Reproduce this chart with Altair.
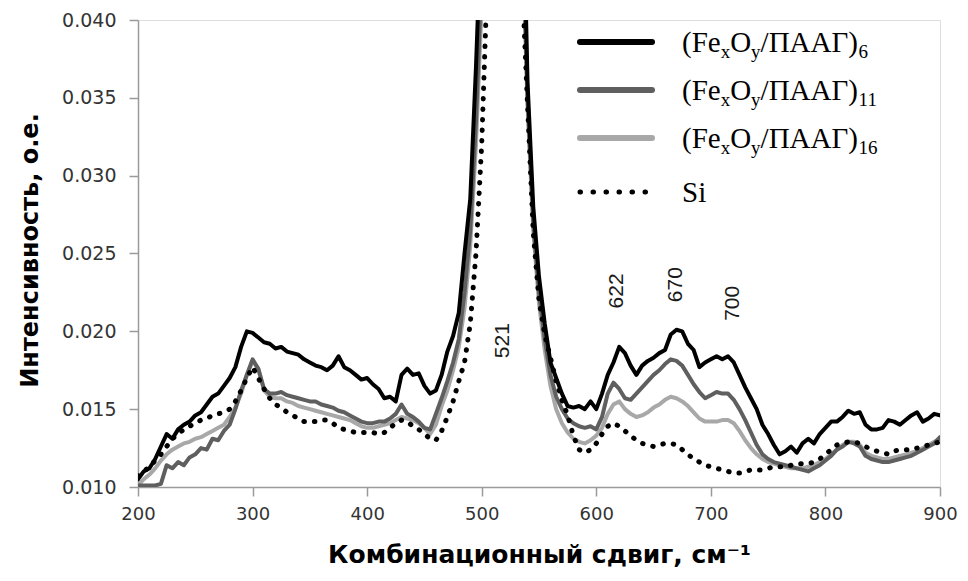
import altair as alt
import pandas as pd

# Raman shift grid (cm-1)
shift = list(range(200, 905, 5))

# (FexOy/ПААГ)6  – black
s6 = [0.0105, 0.0110, 0.0112, 0.0118, 0.0126, 0.0134, 0.0131, 0.0137, 0.0140, 0.0142,
      0.0146, 0.0148, 0.0153, 0.0158, 0.0160, 0.0165, 0.0170, 0.0177, 0.0190, 0.0200,
      0.0199, 0.0196, 0.0193, 0.0192, 0.0189, 0.0190, 0.0187, 0.0186, 0.0185, 0.0182,
      0.0180, 0.0178, 0.0177, 0.0175, 0.0178, 0.0184, 0.0177, 0.0175, 0.0172, 0.0169,
      0.0170, 0.0166, 0.0163, 0.0157, 0.0158, 0.0155, 0.0172, 0.0176, 0.0172, 0.0173,
      0.0165, 0.0160, 0.0162, 0.0172, 0.0187, 0.0197, 0.0212, 0.0250, 0.0285, 0.0370,
      0.0470, 0.0700, 0.1200, 0.2000, 0.2500, 0.2000, 0.1000, 0.0520, 0.0360, 0.0280,
      0.0235, 0.0205, 0.0180, 0.0170, 0.0160, 0.0152, 0.0151, 0.0152, 0.0150, 0.0155,
      0.0150, 0.0160, 0.0172, 0.0180, 0.0190, 0.0186, 0.0178, 0.0172, 0.0178, 0.0181,
      0.0183, 0.0186, 0.0188, 0.0198, 0.0201, 0.0200, 0.0192, 0.0188, 0.0177, 0.0180,
      0.0182, 0.0184, 0.0182, 0.0184, 0.0180, 0.0172, 0.0164, 0.0157, 0.0150, 0.0140,
      0.0134, 0.0127, 0.0121, 0.0123, 0.0126, 0.0122, 0.0128, 0.0131, 0.0128, 0.0134,
      0.0138, 0.0142, 0.0142, 0.0145, 0.0149, 0.0147, 0.0148, 0.0140, 0.0137, 0.0137,
      0.0138, 0.0143, 0.0142, 0.0140, 0.0143, 0.0146, 0.0148, 0.0142, 0.0144, 0.0147,
      0.0146]

# (FexOy/ПААГ)11 – dark grey
s11 = [0.0101, 0.0101, 0.0101, 0.0101, 0.0102, 0.0114, 0.0112, 0.0116, 0.0114, 0.0119,
       0.0121, 0.0125, 0.0124, 0.0131, 0.0130, 0.0136, 0.0140, 0.0150, 0.0162, 0.0172,
       0.0182, 0.0176, 0.0163, 0.0160, 0.0160, 0.0161, 0.0159, 0.0158, 0.0157, 0.0156,
       0.0155, 0.0155, 0.0153, 0.0152, 0.0151, 0.0149, 0.0148, 0.0146, 0.0144, 0.0142,
       0.0141, 0.0141, 0.0142, 0.0142, 0.0144, 0.0147, 0.0153, 0.0147, 0.0145, 0.0142,
       0.0138, 0.0137, 0.0147, 0.0157, 0.0168, 0.0180, 0.0195, 0.0225, 0.0265, 0.0335,
       0.0430, 0.0650, 0.1100, 0.1800, 0.2200, 0.1800, 0.0900, 0.0480, 0.0350, 0.0270,
       0.0225, 0.0195, 0.0172, 0.0158, 0.0150, 0.0144, 0.0141, 0.0139, 0.0138, 0.0139,
       0.0137, 0.0145, 0.0160, 0.0167, 0.0163, 0.0157, 0.0156, 0.0160, 0.0164, 0.0168,
       0.0172, 0.0175, 0.0179, 0.0182, 0.0181, 0.0178, 0.0172, 0.0166, 0.0161, 0.0157,
       0.0159, 0.0161, 0.0160, 0.0160, 0.0156, 0.0150, 0.0143, 0.0135, 0.0127, 0.0121,
       0.0118, 0.0116, 0.0115, 0.0114, 0.0113, 0.0112, 0.0111, 0.0110, 0.0112, 0.0114,
       0.0117, 0.0120, 0.0124, 0.0126, 0.0129, 0.0128, 0.0126, 0.0120, 0.0118, 0.0117,
       0.0116, 0.0116, 0.0117, 0.0118, 0.0119, 0.0120, 0.0122, 0.0124, 0.0126, 0.0128,
       0.0132]

# (FexOy/ПААГ)16 – light grey
s16 = [0.0101, 0.0105, 0.0108, 0.0112, 0.0117, 0.0121, 0.0124, 0.0126, 0.0128, 0.0129,
       0.0131, 0.0132, 0.0134, 0.0136, 0.0138, 0.0140, 0.0145, 0.0151, 0.0160, 0.0172,
       0.0181, 0.0176, 0.0162, 0.0158, 0.0157, 0.0157, 0.0155, 0.0154, 0.0152, 0.0151,
       0.0150, 0.0149, 0.0148, 0.0147, 0.0146, 0.0145, 0.0144, 0.0143, 0.0141, 0.0139,
       0.0138, 0.0138, 0.0139, 0.0140, 0.0141, 0.0143, 0.0145, 0.0144, 0.0143, 0.0141,
       0.0138, 0.0134, 0.0140, 0.0152, 0.0162, 0.0175, 0.0190, 0.0215, 0.0255, 0.0320,
       0.0410, 0.0600, 0.1000, 0.1600, 0.2000, 0.1600, 0.0850, 0.0460, 0.0345, 0.0265,
       0.0218, 0.0188, 0.0165, 0.0150, 0.0141, 0.0135, 0.0131, 0.0129, 0.0128, 0.0130,
       0.0133, 0.0138, 0.0147, 0.0153, 0.0155, 0.0150, 0.0147, 0.0145, 0.0146, 0.0148,
       0.0151, 0.0153, 0.0156, 0.0158, 0.0157, 0.0155, 0.0152, 0.0148, 0.0144, 0.0142,
       0.0142, 0.0142, 0.0143, 0.0143, 0.0141, 0.0136, 0.0130, 0.0125, 0.0121, 0.0118,
       0.0116, 0.0115, 0.0114, 0.0113, 0.0112, 0.0112, 0.0112, 0.0113, 0.0114, 0.0116,
       0.0118, 0.0121, 0.0124, 0.0127, 0.0129, 0.0129, 0.0127, 0.0122, 0.0120, 0.0119,
       0.0118, 0.0118, 0.0119, 0.0120, 0.0121, 0.0122, 0.0123, 0.0125, 0.0127, 0.0129,
       0.0131]

# Si substrate – dotted
si = [0.0107, 0.0110, 0.0113, 0.0117, 0.0121, 0.0126, 0.0131, 0.0134, 0.0137, 0.0139,
      0.0141, 0.0143, 0.0144, 0.0146, 0.0147, 0.0148, 0.0150, 0.0155, 0.0162, 0.0170,
      0.0177, 0.0170, 0.0163, 0.0157, 0.0153, 0.0151, 0.0148, 0.0146, 0.0144, 0.0142,
      0.0142, 0.0142, 0.0143, 0.0143, 0.0141, 0.0138, 0.0137, 0.0136, 0.0135, 0.0135,
      0.0135, 0.0135, 0.0134, 0.0135, 0.0138, 0.0141, 0.0143, 0.0142, 0.0139, 0.0137,
      0.0134, 0.0131, 0.0130, 0.0136, 0.0145, 0.0155, 0.0168, 0.0180, 0.0205, 0.0250,
      0.0320, 0.0430, 0.0900, 0.2000, 0.3000, 0.2000, 0.0900, 0.0430, 0.0345, 0.0263,
      0.0220, 0.0198, 0.0183, 0.0168, 0.0156, 0.0146, 0.0133, 0.0124, 0.0122, 0.0124,
      0.0128, 0.0134, 0.0139, 0.0141, 0.0139, 0.0136, 0.0133, 0.0130, 0.0128, 0.0127,
      0.0126, 0.0127, 0.0128, 0.0128, 0.0127, 0.0124, 0.0121, 0.0118, 0.0116, 0.0114,
      0.0113, 0.0112, 0.0111, 0.0110, 0.0109, 0.0109, 0.0110, 0.0111, 0.0111, 0.0111,
      0.0112, 0.0113, 0.0113, 0.0113, 0.0114, 0.0115, 0.0115, 0.0115, 0.0116, 0.0118,
      0.0121, 0.0124, 0.0127, 0.0128, 0.0129, 0.0129, 0.0128, 0.0126, 0.0124, 0.0123,
      0.0122, 0.0121, 0.0123, 0.0124, 0.0124, 0.0124, 0.0125, 0.0126, 0.0127, 0.0128,
      0.0129]

# peak annotations
peak_labels = ["521", "622", "670", "700"]
peak_x = [519, 618, 670, 719]
peak_y = [0.0194, 0.0226, 0.0230, 0.0218]

x_ticks = [200, 300, 400, 500, 600, 700, 800, 900]
y_ticks = [0.010, 0.015, 0.020, 0.025, 0.030, 0.035, 0.040]

legend_subs = ["6", "11", "16"]
legend_colors = ["#000000", "#5f5f5f", "#a8a8a8"]

W, H = 802, 467
AXIS_FONT = "DejaVu Sans"

xs = alt.Scale(domain=[200, 900], nice=False, zero=False)
ys = alt.Scale(domain=[0.010, 0.040], nice=False, zero=False)

x_axis = alt.Axis(
    title="Комбинационный сдвиг, см⁻¹", values=x_ticks, format="d", grid=False,
    labelFont=AXIS_FONT, labelFontSize=18, labelColor="#333333", labelPadding=9,
    tickSize=9, tickColor="#9a9a9a", domainColor="#9a9a9a", domainWidth=1.5, tickWidth=1.5,
    titleFont=AXIS_FONT, titleFontSize=25, titleFontWeight="bold", titleColor="#000000",
    titleY=67, titleBaseline="middle", labelFlush=False,
)
y_axis = alt.Axis(
    title="Интенсивность, о.е.", values=y_ticks, format=".3f", grid=False,
    labelFont=AXIS_FONT, labelFontSize=19, labelColor="#333333", labelPadding=13,
    tickSize=9, tickColor="#9a9a9a", domainColor="#9a9a9a", domainWidth=1.5, tickWidth=1.5,
    titleFont=AXIS_FONT, titleFontSize=24, titleFontWeight="bold", titleColor="#000000",
    titleX=-108, titleY=230, titleAngle=-90, titleAlign="center", titleBaseline="middle",
    labelFlush=False,
)


def line_layer(vals, color, width, dash=None):
    df = pd.DataFrame({"x": shift, "y": vals})
    kw = dict(color=color, strokeWidth=width, clip=True, strokeJoin="round", strokeCap="round")
    if dash is not None:
        kw["strokeDash"] = dash
    return alt.Chart(df).mark_line(**kw).encode(
        x=alt.X("x:Q", scale=xs, axis=x_axis),
        y=alt.Y("y:Q", scale=ys, axis=y_axis),
    )


layers = [
    line_layer(s16, legend_colors[2], 4),
    line_layer(s11, legend_colors[1], 4),
    line_layer(s6, legend_colors[0], 4),
    line_layer(si, "#000000", 5, [0.5, 10]),
]

ann_df = pd.DataFrame({"x": peak_x, "y": peak_y, "t": peak_labels})
layers.append(
    alt.Chart(ann_df).mark_text(angle=270, font="Liberation Sans", fontSize=21, color="#1a1a1a",
                                align="center", baseline="middle").encode(
        x=alt.X("x:Q", scale=xs, axis=x_axis),
        y=alt.Y("y:Q", scale=ys, axis=y_axis),
        text="t:N",
    )
)

# ---- custom legend (decoration) ----
dummy = pd.DataFrame({"a": [0]})
LX0, LX1 = 442, 514
TX = 544
row_y = [22, 70, 118, 172]
F, S = 29, 19
SERIF = "Liberation Serif"


def seg(text, x, y, size):
    return alt.Chart(dummy).mark_text(text=text, font=SERIF, fontSize=size, color="#000000",
                                      align="left", baseline="alphabetic").encode(
        x=alt.value(x), y=alt.value(y))


for i in range(3):
    ry = row_y[i]
    layers.append(alt.Chart(dummy).mark_rule(color=legend_colors[i], strokeWidth=6, strokeCap="round").encode(
        x=alt.value(LX0), x2=alt.value(LX1), y=alt.value(ry)))
    base = ry + 10
    sub = base + 6
    x = TX
    layers.append(seg("(Fe", x, base, F)); x += 1.333 * F
    layers.append(seg("x", x, sub, S)); x += 0.5 * S
    layers.append(seg("O", x, base, F)); x += 0.722 * F
    layers.append(seg("y", x, sub, S)); x += 0.5 * S
    layers.append(seg("/ПААГ)", x, base, F)); x += 3.38 * F
    layers.append(seg(legend_subs[i], x, sub, S))

ry = row_y[3]
layers.append(alt.Chart(dummy).mark_rule(color="#000000", strokeWidth=5, strokeCap="round",
                                         strokeDash=[0.5, 12.5]).encode(
    x=alt.value(LX0), x2=alt.value(LX1), y=alt.value(ry)))
layers.append(seg("Si", TX, ry + 10, F))

chart = alt.layer(*layers).properties(
    width=W, height=H,
    autosize=alt.AutoSizeParams(type="none"),
    padding={"left": 130, "top": 12, "right": 20, "bottom": 86},
).configure_view(stroke=None).configure(background="#ffffff")

chart.save("out.html", embed_options={"renderer": "svg", "actions": False})
